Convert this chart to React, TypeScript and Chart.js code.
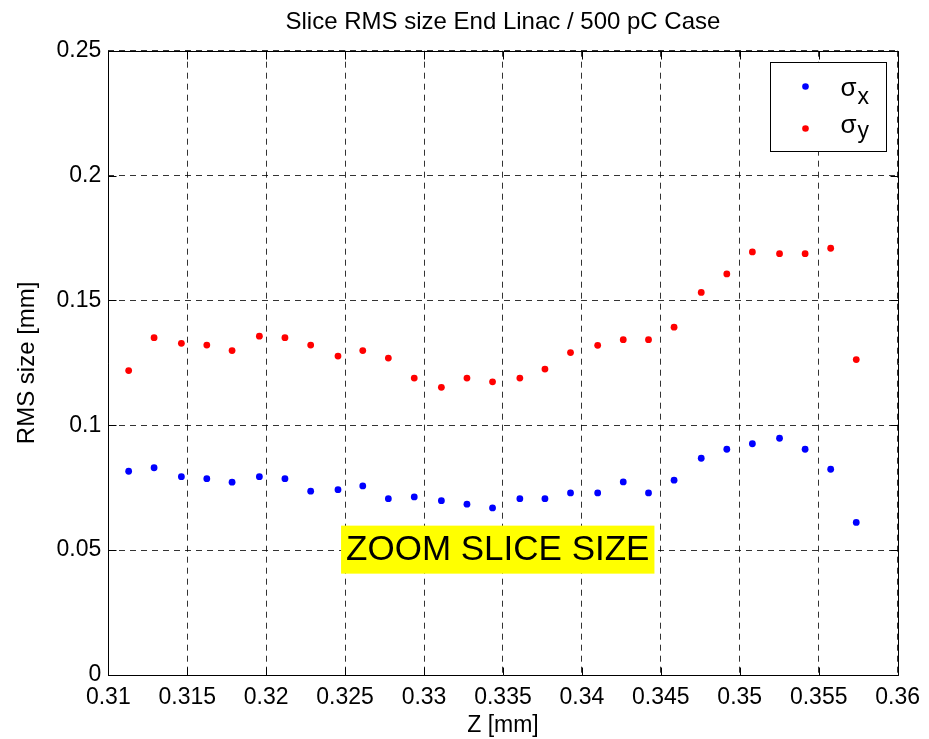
import React, { useEffect, useRef } from 'react';
import { Chart, registerables } from 'chart.js';

Chart.register(...registerables);

// ---- data ----
const TITLE = 'Slice RMS size End Linac / 500 pC Case';
const X_LABEL = 'Z [mm]';
const Y_LABEL = 'RMS size [mm]';

const Z_MM = [
  0.31129, 0.3129, 0.31463, 0.31624, 0.31784, 0.31957, 0.32119, 0.32282, 0.32455, 0.32612,
  0.32774, 0.32938, 0.3311, 0.33272, 0.33434, 0.33607, 0.33766, 0.33928, 0.341, 0.34262,
  0.34422, 0.34584, 0.34756, 0.34918, 0.3508, 0.35252, 0.35414, 0.35576, 0.35738,
];

const SIGMA_X = [
  0.0816, 0.083, 0.0794, 0.0786, 0.0772, 0.0794, 0.0786, 0.0736, 0.0742, 0.0757,
  0.0706, 0.0713, 0.0698, 0.0684, 0.0669, 0.0706, 0.0706, 0.0729, 0.0729, 0.0773,
  0.0729, 0.078, 0.0868, 0.0904, 0.0926, 0.0948, 0.0904, 0.0824, 0.0611,
];

const SIGMA_Y = [
  0.1219, 0.1351, 0.1328, 0.1321, 0.1299, 0.1357, 0.1351, 0.1321, 0.1277, 0.1299,
  0.1269, 0.1189, 0.1152, 0.1189, 0.1174, 0.1189, 0.1225, 0.1291, 0.132, 0.1343,
  0.1343, 0.1393, 0.1532, 0.1606, 0.1694, 0.1687, 0.1687, 0.1709, 0.1263,
];

const X_TICKS = [0.31, 0.315, 0.32, 0.325, 0.33, 0.335, 0.34, 0.345, 0.35, 0.355, 0.36];
const X_TICK_LABELS = ['0.31', '0.315', '0.32', '0.325', '0.33', '0.335', '0.34', '0.345', '0.35', '0.355', '0.36'];
const Y_TICKS = [0, 0.05, 0.1, 0.15, 0.2, 0.25];
const Y_TICK_LABELS = ['0', '0.05', '0.1', '0.15', '0.2', '0.25'];

const SERIES_NAMES = ['x', 'y']; // subscripts of sigma in the legend
const SERIES_COLORS = ['#0000ff', '#ff0000'];

const NOTE_TEXT = 'ZOOM SLICE SIZE';
const NOTE_Z = 0.33467;
const NOTE_Y = 0.0502;

// ---- styling ----
const FONT = '"Liberation Sans", Arial, Helvetica, sans-serif';
const WIDTH = 929;
const HEIGHT = 739;

// Title centred over the axes box
const titlePlugin = {
  id: 'axesTitle',
  afterDraw(chart: any) {
    const { ctx, chartArea } = chart;
    ctx.save();
    ctx.font = `24px ${FONT}`;
    ctx.fillStyle = '#000';
    ctx.textAlign = 'center';
    ctx.textBaseline = 'middle';
    ctx.fillText(TITLE, (chartArea.left + chartArea.right) / 2, 22);
    ctx.restore();
  },
};

// Solid axes box with inward tick marks on all four sides
const framePlugin = {
  id: 'axesFrame',
  afterDatasetsDraw(chart: any) {
    const { ctx, chartArea, scales } = chart;
    const L = Math.round(chartArea.left) + 0.5;
    const R = Math.round(chartArea.right) + 0.5;
    const T = Math.round(chartArea.top) + 0.5;
    const B = Math.round(chartArea.bottom) + 0.5;
    const len = 8;
    ctx.save();
    ctx.strokeStyle = '#000';
    ctx.lineWidth = 1;
    ctx.setLineDash([]);
    ctx.beginPath();
    ctx.rect(L, T, R - L, B - T);
    X_TICKS.forEach((v) => {
      const px = Math.round(scales.x.getPixelForValue(v)) + 0.5;
      ctx.moveTo(px, B);
      ctx.lineTo(px, B - len);
      ctx.moveTo(px, T);
      ctx.lineTo(px, T + len);
    });
    Y_TICKS.forEach((v) => {
      const py = Math.round(scales.y.getPixelForValue(v)) + 0.5;
      ctx.moveTo(L, py);
      ctx.lineTo(L + len, py);
      ctx.moveTo(R, py);
      ctx.lineTo(R - len, py);
    });
    ctx.stroke();
    ctx.restore();
  },
};

// Yellow text box placed in data coordinates
const notePlugin = {
  id: 'noteBox',
  afterDatasetsDraw(chart: any) {
    const { ctx, scales } = chart;
    const cx = scales.x.getPixelForValue(NOTE_Z);
    const cy = scales.y.getPixelForValue(NOTE_Y);
    ctx.save();
    ctx.font = `35px ${FONT}`;
    const w = ctx.measureText(NOTE_TEXT).width + 10;
    const h = 48;
    ctx.fillStyle = '#ffff00';
    ctx.fillRect(cx - w / 2, cy - h / 2, w, h);
    ctx.fillStyle = '#000';
    ctx.textAlign = 'center';
    ctx.textBaseline = 'middle';
    ctx.fillText(NOTE_TEXT, cx, cy + 1);
    ctx.restore();
  },
};

// Boxed legend with sigma symbols and subscripts
const legendPlugin = {
  id: 'sigmaLegend',
  afterDraw(chart: any) {
    const { ctx, chartArea } = chart;
    const boxW = 116;
    const boxH = 89;
    const x0 = Math.round(chartArea.right - 12 - boxW) + 0.5;
    const y0 = Math.round(chartArea.top + 11) + 0.5;
    ctx.save();
    ctx.fillStyle = '#fff';
    ctx.fillRect(x0, y0, boxW, boxH);
    ctx.strokeStyle = '#000';
    ctx.lineWidth = 1;
    ctx.setLineDash([]);
    ctx.strokeRect(x0, y0, boxW, boxH);
    const rows = [
      { my: 24, sb: 33, ss: 41 },
      { my: 66, sb: 70, ss: 75 },
    ];
    chart.data.datasets.forEach((ds: any, i: number) => {
      const r = rows[i];
      ctx.fillStyle = ds.backgroundColor;
      ctx.beginPath();
      ctx.arc(x0 + 35, y0 + r.my, 3.3, 0, Math.PI * 2);
      ctx.fill();
      ctx.fillStyle = '#000';
      ctx.textAlign = 'left';
      ctx.textBaseline = 'alphabetic';
      ctx.font = `26px ${FONT}`;
      ctx.fillText('σ', x0 + 70, y0 + r.sb);
      const sw = ctx.measureText('σ').width;
      ctx.font = `23px ${FONT}`;
      ctx.fillText(SERIES_NAMES[i], x0 + 70 + sw + 1, y0 + r.ss);
    });
    ctx.restore();
  },
};

export default function App() {
  const canvasRef = useRef<HTMLCanvasElement | null>(null);

  useEffect(() => {
    const canvas = canvasRef.current;
    if (!canvas) return;

    const gridColor = 'rgba(0,0,0,0.8)';
    const tickFont = { family: FONT, size: 23 };
    const titleFont = { family: FONT, size: 23 };

    const chart = new Chart(canvas, {
      type: 'scatter',
      data: {
        datasets: [SIGMA_X, SIGMA_Y].map((vals, i) => ({
          label: 'σ' + SERIES_NAMES[i],
          data: Z_MM.map((z, k) => ({ x: z, y: vals[k] })),
          backgroundColor: SERIES_COLORS[i],
          borderColor: SERIES_COLORS[i],
          pointRadius: 3.4,
          pointHoverRadius: 3.4,
          pointBorderWidth: 0,
          showLine: false,
        })),
      },
      options: {
        responsive: true,
        maintainAspectRatio: false,
        animation: false,
        devicePixelRatio: 1,
        layout: { padding: { left: 0, right: 28, top: 50.7, bottom: 0 } },
        plugins: {
          legend: { display: false },
          title: { display: false },
          tooltip: { enabled: false },
        },
        scales: {
          x: {
            type: 'linear',
            min: 0.31,
            max: 0.36,
            afterBuildTicks: (scale: any) => {
              scale.ticks = X_TICKS.map((value) => ({ value }));
            },
            afterFit: (scale: any) => {
              scale.height = 64;
            },
            grid: { color: gridColor, lineWidth: 1, drawTicks: false },
            border: { display: false, dash: [6, 5] },
            ticks: {
              font: tickFont,
              color: '#000',
              padding: 9,
              autoSkip: false,
              maxRotation: 0,
              minRotation: 0,
              callback: (_v: any, i: number) => X_TICK_LABELS[i],
            },
            title: {
              display: true,
              text: X_LABEL,
              font: titleFont,
              color: '#000',
              padding: { top: 0, bottom: 0 },
            },
          },
          y: {
            type: 'linear',
            min: 0,
            max: 0.25,
            afterBuildTicks: (scale: any) => {
              scale.ticks = Y_TICKS.map((value) => ({ value }));
            },
            afterFit: (scale: any) => {
              scale.width = 108.3;
            },
            grid: { color: gridColor, lineWidth: 1, drawTicks: false },
            border: { display: false, dash: [6, 5] },
            ticks: {
              font: tickFont,
              color: '#000',
              padding: 7,
              autoSkip: false,
              callback: (_v: any, i: number) => Y_TICK_LABELS[i],
            },
            title: {
              display: true,
              text: Y_LABEL,
              font: { family: FONT, size: 24 },
              color: '#000',
              padding: { top: 13, bottom: 0 },
            },
          },
        },
      },
      plugins: [framePlugin, notePlugin, legendPlugin, titlePlugin],
    } as any);

    return () => chart.destroy();
  }, []);

  return (
    <div
      style={{
        position: 'fixed',
        left: 0,
        top: 0,
        width: WIDTH,
        height: HEIGHT,
        background: '#fff',
      }}
    >
      <canvas ref={canvasRef} />
    </div>
  );
}
